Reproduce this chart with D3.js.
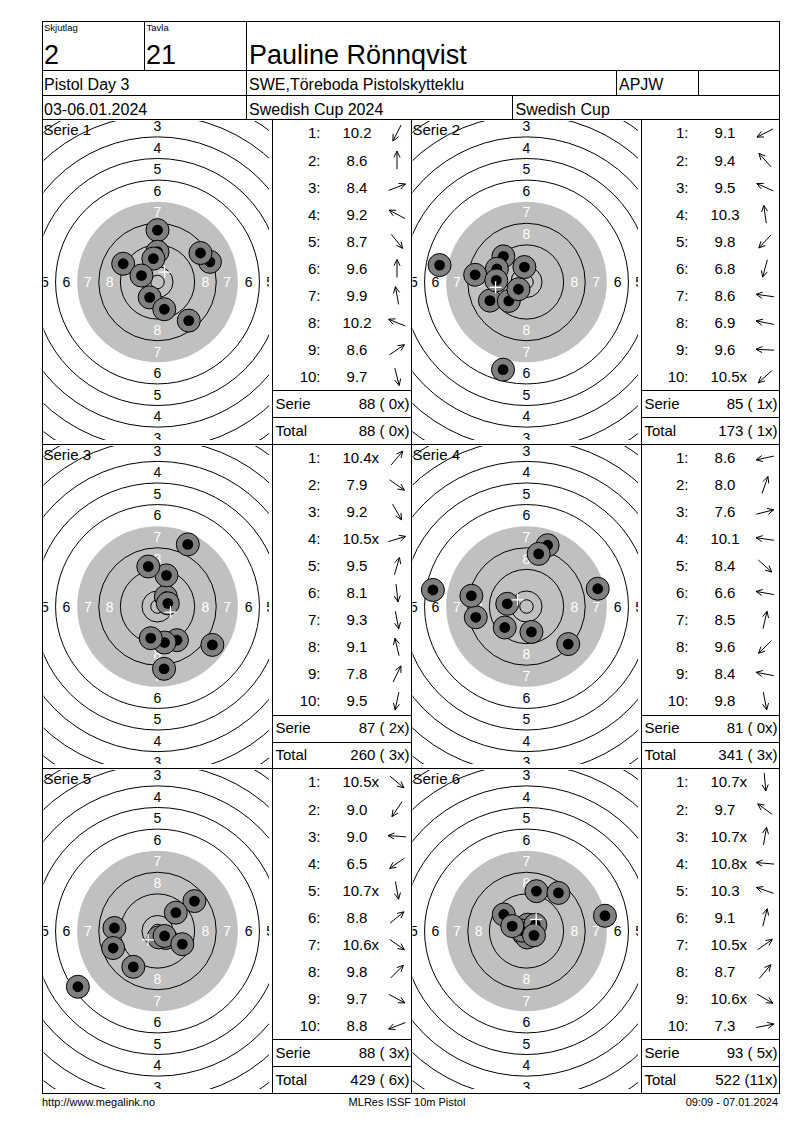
<!DOCTYPE html>
<html>
<head>
<meta charset="utf-8">
<script src="https://cdn.jsdelivr.net/npm/d3@7"></script>
<style>
  body { margin: 0; background: #fff; }
  svg { font-family: "Liberation Sans", Arial, sans-serif; }
  text { white-space: pre; }
</style>
</head>
<body>
<svg id="chart" width="800" height="1130"></svg>
<script>
// header texts
const shooterName = 'Pauline Rönnqvist';
const relayNo = '2';
const laneNo = '21';
const headerRow2 = ['Pistol Day 3', 'SWE,Töreboda Pistolskytteklu', 'APJW', ''];
const headerRow3 = ['03-06.01.2024', 'Swedish Cup 2024', 'Swedish Cup'];
const footerTexts = ['http://www.megalink.no', 'MLRes ISSF 10m Pistol', '09:09 - 07.01.2024'];

// series: shot values (x = inner ten) and shot direction in degrees (0 = right, 90 = up)
const serieNames = ['Serie 1', 'Serie 2', 'Serie 3', 'Serie 4', 'Serie 5', 'Serie 6'];
const serie1Shots = ['10.2', '8.6', '8.4', '9.2', '8.7', '9.6', '9.9', '10.2', '8.6', '9.7'];
const serie1Dirs = [243, 90, 21, 152, 309, 90, 100, 158, 34, 284];
const serie2Shots = ['9.1', '9.4', '9.5', '10.3', '9.8', '6.8', '8.6', '6.9', '9.6', '10.5x'];
const serie2Dirs = [207, 132, 156, 98, 227, 255, 172, 169, 177, 222];
const serie3Shots = ['10.4x', '7.9', '9.2', '10.5x', '9.5', '8.1', '9.3', '9.1', '7.8', '9.5'];
const serie3Dirs = [50, 325, 300, 17, 74, 276, 281, 103, 64, 258];
const serie4Shots = ['8.6', '8.0', '7.6', '10.1', '8.4', '6.6', '8.5', '9.6', '8.4', '9.8'];
const serie4Dirs = [192, 71, 14, 172, 318, 170, 77, 224, 169, 281];
const serie5Shots = ['10.5x', '9.0', '9.0', '6.5', '10.7x', '8.8', '10.6x', '9.8', '9.7', '8.8'];
const serie5Dirs = [320, 236, 176, 215, 280, 39, 325, 45, 332, 201];
const serie6Shots = ['10.7x', '9.7', '10.7x', '10.8x', '10.3', '9.1', '10.5x', '8.7', '10.6x', '7.3'];
const serie6Dirs = [275, 144, 80, 175, 161, 76, 35, 50, 330, 11];

// ring numbers printed on the target
const ringLabels = [8, 7, 6, 5, 4, 3];
const ringLines = [1, 2, 3, 4, 5, 6, 8, 9, 10];

const series = [
  { name: serieNames[0], shots: serie1Shots, dirs: serie1Dirs },
  { name: serieNames[1], shots: serie2Shots, dirs: serie2Dirs },
  { name: serieNames[2], shots: serie3Shots, dirs: serie3Dirs },
  { name: serieNames[3], shots: serie4Shots, dirs: serie4Dirs },
  { name: serieNames[4], shots: serie5Shots, dirs: serie5Dirs },
  { name: serieNames[5], shots: serie6Shots, dirs: serie6Dirs }
];

const svg = d3.select('#chart');
const defs = svg.append('defs');

// layout
const frameL = 42.5, frameR = 779.5, frameT = 21.5;
const headerY = [21.5, 70.5, 95.5, 119.5];
const panelY = [119.5, 444.5, 768.5, 1093.5];
const colX = [42.5, 272.5, 411.5, 641.5, 779.5];

// target geometry in mm (ISSF 10m pistol target)
const mm = d3.scaleLinear().domain([0, 100]).range([0, 270]);
const scoreToMm = d3.scaleLinear().domain([11, 1]).range([0, 80]);
const ringRadius = n => 5.75 + (10 - n) * 8;
const labelRadius = n => ringRadius(n) - 4;

let total = 0, totalX = 0;

series.forEach((s, i) => {
  const row = Math.floor(i / 2), col = i % 2;
  const tx0 = colX[col * 2], tx1 = colX[col * 2 + 1], tabR = colX[col * 2 + 2];
  const y0 = panelY[row], y1 = panelY[row + 1];
  const cx = (tx0 + tx1) / 2, cy = (y0 + y1) / 2;

  // the target picture sits slightly inside its cell
  defs.append('clipPath').attr('id', 'clip' + i)
    .append('rect')
    .attr('x', tx0 + 1).attr('y', y0 + 1.5)
    .attr('width', tx1 - tx0 - 4.5).attr('height', y1 - y0 - 6);

  const g = svg.append('g').attr('clip-path', 'url(#clip' + i + ')');

  g.append('circle')
    .attr('cx', cx).attr('cy', cy)
    .attr('r', mm(ringRadius(7)))
    .attr('fill', '#c0c0c0');

  g.selectAll('circle.ring')
    .data(ringLines.map(ringRadius).concat([2.5]))
    .join('circle')
    .attr('class', 'ring')
    .attr('cx', cx).attr('cy', cy)
    .attr('r', d => mm(d))
    .attr('fill', 'none')
    .attr('stroke', '#000')
    .attr('stroke-width', 1);

  const labels = [];
  ringLabels.forEach(n => {
    const r = mm(labelRadius(n));
    [[0, -r], [0, r], [-r, 0], [r, 0]].forEach(p => labels.push({ n, x: cx + p[0], y: cy + p[1] }));
  });
  g.selectAll('text.ringlabel')
    .data(labels)
    .join('text')
    .attr('class', 'ringlabel')
    .attr('x', d => d.x)
    .attr('y', d => d.y + 5)
    .attr('text-anchor', 'middle')
    .attr('font-size', 14)
    .attr('fill', d => (d.n >= 7 ? '#fff' : '#000'))
    .text(d => d.n);

  const shots = s.shots.map((t, k) => {
    const v = parseFloat(t);
    const a = s.dirs[k] * Math.PI / 180;
    const r = mm(scoreToMm(v));
    return { t, v, inner: t.endsWith('x'), a, x: cx + r * Math.cos(a), y: cy - r * Math.sin(a) };
  });

  const hit = g.selectAll('g.shot')
    .data(shots)
    .join('g')
    .attr('class', 'shot');
  hit.append('circle')
    .attr('cx', d => d.x).attr('cy', d => d.y)
    .attr('r', 11.5)
    .attr('fill', '#808080')
    .attr('stroke', '#000')
    .attr('stroke-width', 1);
  hit.append('circle')
    .attr('cx', d => d.x).attr('cy', d => d.y)
    .attr('r', 5.4)
    .attr('fill', '#000');

  // mean point of impact
  const mx = d3.mean(shots, d => d.x), my = d3.mean(shots, d => d.y);
  g.append('path')
    .attr('d', `M${mx - 6},${my}H${mx + 6}M${mx},${my - 6}V${my + 6}`)
    .attr('stroke', '#fff')
    .attr('stroke-width', 1.3);

  svg.append('text')
    .attr('x', tx0 + 1).attr('y', y0 + 15)
    .attr('font-size', 15)
    .text(s.name);

  // score table
  const rows = d3.scaleBand().domain(d3.range(12)).range([y0, y1]);
  const tab = svg.append('g').attr('font-size', 15);

  tab.selectAll('text.num')
    .data(shots)
    .join('text')
    .attr('class', 'num')
    .attr('x', tabR - 91)
    .attr('y', (d, k) => rows(k) + rows.bandwidth() / 2 + 5.4)
    .attr('text-anchor', 'end')
    .text((d, k) => (k + 1) + ':');

  tab.selectAll('text.val')
    .data(shots)
    .join('text')
    .attr('class', 'val')
    .attr('x', tabR - 54.5)
    .attr('y', (d, k) => rows(k) + rows.bandwidth() / 2 + 5.4)
    .attr('text-anchor', 'middle')
    .text(d => d.t.replace('x', ''))
    .each(function (d, k) {
      if (!d.inner) return;
      const w = this.getComputedTextLength();
      tab.append('text')
        .attr('x', tabR - 54.5 + w / 2)
        .attr('y', rows(k) + rows.bandwidth() / 2 + 5.4)
        .text('x');
    });

  tab.selectAll('path.dir')
    .data(shots)
    .join('path')
    .attr('class', 'dir')
    .attr('d', (d, k) => {
      const ax = tabR - 14.5, ay = rows(k) + rows.bandwidth() / 2;
      const L = 9, hl = 7, ha = 0.45;
      const c = Math.cos(d.a), sn = Math.sin(d.a);
      const tipX = ax + c * L, tipY = ay - sn * L;
      const p = d3.path();
      p.moveTo(ax - c * L, ay + sn * L);
      p.lineTo(tipX, tipY);
      p.moveTo(tipX - Math.cos(d.a - ha) * hl, tipY + Math.sin(d.a - ha) * hl);
      p.lineTo(tipX, tipY);
      p.lineTo(tipX - Math.cos(d.a + ha) * hl, tipY + Math.sin(d.a + ha) * hl);
      return p.toString();
    })
    .attr('fill', 'none')
    .attr('stroke', '#000')
    .attr('stroke-width', 1);

  const sum = d3.sum(shots, d => Math.floor(d.v));
  const xs = shots.filter(d => d.inner).length;
  total += sum; totalX += xs;
  const fmt = (v, x) => v + ' (' + String(x).padStart(2, ' ') + 'x)';

  [['Serie', fmt(sum, xs)], ['Total', fmt(total, totalX)]].forEach((r, k) => {
    const ry = rows(10 + k);
    tab.append('line')
      .attr('x1', tx1).attr('x2', tabR)
      .attr('y1', Math.round(ry) + 0.5).attr('y2', Math.round(ry) + 0.5)
      .attr('stroke', '#000');
    tab.append('text')
      .attr('x', tx1 + 3).attr('y', ry + rows.bandwidth() / 2 + 5.4)
      .text(r[0]);
    tab.append('text')
      .attr('x', tabR - 2).attr('y', ry + rows.bandwidth() / 2 + 5.4)
      .attr('text-anchor', 'end')
      .text(r[1]);
  });
});

// grid lines
const lines = svg.append('g').attr('stroke', '#000').attr('stroke-width', 1).attr('fill', 'none');
lines.append('rect').attr('x', frameL).attr('y', frameT).attr('width', frameR - frameL).attr('height', panelY[3] - frameT);
headerY.slice(1).concat(panelY.slice(1, 3)).forEach(y =>
  lines.append('line').attr('x1', frameL).attr('x2', frameR).attr('y1', y).attr('y2', y));
[[144.5, 0], [246.5, 0], [246.5, 1], [616.5, 1], [698.5, 1], [246.5, 2], [512.5, 2]].forEach(([x, r]) =>
  lines.append('line').attr('x1', x).attr('x2', x).attr('y1', headerY[r]).attr('y2', headerY[r + 1]));
colX.slice(1, 4).forEach(x =>
  lines.append('line').attr('x1', x).attr('x2', x).attr('y1', panelY[0]).attr('y2', panelY[3]));

// header texts
const head = svg.append('g').attr('fill', '#000');
head.append('text').attr('x', 44).attr('y', 30.5).attr('font-size', 9.5).text('Skjutlag');
head.append('text').attr('x', 146.5).attr('y', 30.5).attr('font-size', 9.5).text('Tavla');
head.append('text').attr('x', 44).attr('y', 63.5).attr('font-size', 27).text(relayNo);
head.append('text').attr('x', 146).attr('y', 63.5).attr('font-size', 27).text(laneNo);
head.append('text').attr('x', 249).attr('y', 63.5).attr('font-size', 27).text(shooterName);
[44, 249, 619, 701].forEach((x, k) =>
  head.append('text').attr('x', x).attr('y', 90).attr('font-size', 16).text(headerRow2[k]));
[44, 249, 515.5].forEach((x, k) =>
  head.append('text').attr('x', x).attr('y', 114.5).attr('font-size', 16).text(headerRow3[k]));

// footer
const foot = svg.append('g').attr('font-size', 11);
foot.append('text').attr('x', 42).attr('y', 1106).text(footerTexts[0]);
foot.append('text').attr('x', 407).attr('y', 1106).attr('text-anchor', 'middle').text(footerTexts[1]);
foot.append('text').attr('x', 778).attr('y', 1106).attr('text-anchor', 'end').text(footerTexts[2]);
</script>
</body>
</html>
